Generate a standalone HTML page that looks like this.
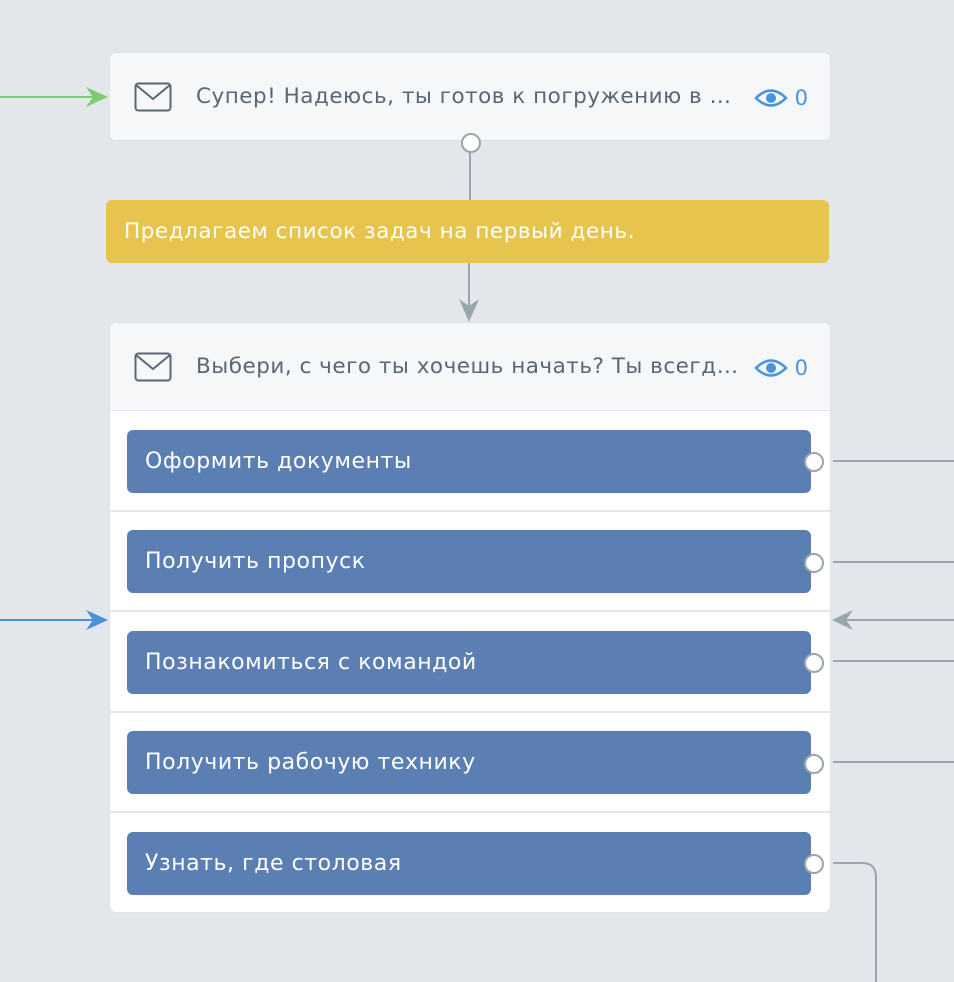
<!DOCTYPE html>
<html><head><meta charset="utf-8"><style>
body{margin:0;width:954px;height:982px;background:#e3e7ec;position:relative;overflow:hidden;font-family:"DejaVu Sans","Liberation Sans",sans-serif}
.card{position:absolute;left:110px;width:720px;background:#fff;border-radius:6px;box-shadow:0 0 0 1px #dde2e8}
.hdr{position:absolute;left:0;right:0;top:0;height:87px;background:#f5f7f9;border-radius:6px 6px 0 0;border-bottom:1px solid #e3e7ec}
.ttl{position:absolute;left:86px;top:31px;font-size:21.5px;letter-spacing:0.5px;color:#5a6676;white-space:nowrap}
.eye{position:absolute;left:644px;top:30px;color:#4a94dd;font-size:21px}
.btn{position:absolute;left:127px;width:684px;height:63px;background:#5c7fb3;border-radius:6px;color:#fff;font-size:22px;letter-spacing:0.55px;line-height:63px;box-sizing:border-box;padding-left:18px}
.sep{position:absolute;left:110px;width:720px;height:2px;background:#e3e7ec}
.yel{position:absolute;left:106px;top:200px;width:723px;height:63px;background:#e6c44e;border-radius:6px;color:#fff;font-size:21.5px;letter-spacing:0.55px;line-height:63px;padding-left:18px;box-sizing:border-box}
svg{position:absolute;left:0;top:0}
</style></head><body>
<div class="card" style="top:53px;height:87px"><div class="hdr" style="border-bottom:none;border-radius:6px"></div>
<svg style="left:24px;top:29px" width="38" height="30"><rect x="1.5" y="1.5" width="35" height="27" rx="3" fill="none" stroke="#5a6676" stroke-width="2"/><path d="M2 3 L19 17 L36 3" fill="none" stroke="#5a6676" stroke-width="2"/></svg>
<div class="ttl">Супер! Надеюсь, ты готов к погружению в …</div>
<div class="eye"><svg style="position:relative;top:4px;left:0" width="34" height="22"><path d="M2 11 Q17 -4 32 11 Q17 26 2 11Z" fill="none" stroke="#4a94dd" stroke-width="2.5"/><circle cx="17" cy="11" r="5" fill="#4a94dd"/></svg> 0</div></div>
<div class="yel">Предлагаем список задач на первый день.</div>
<div class="card" style="top:323px;height:589px"><div class="hdr"></div>
<svg style="left:24px;top:29px" width="38" height="30"><rect x="1.5" y="1.5" width="35" height="27" rx="3" fill="none" stroke="#5a6676" stroke-width="2"/><path d="M2 3 L19 17 L36 3" fill="none" stroke="#5a6676" stroke-width="2"/></svg>
<div class="ttl">Выбери, с чего ты хочешь начать? Ты всегд…</div>
<div class="eye"><svg style="position:relative;top:4px" width="34" height="22"><path d="M2 11 Q17 -4 32 11 Q17 26 2 11Z" fill="none" stroke="#4a94dd" stroke-width="2.5"/><circle cx="17" cy="11" r="5" fill="#4a94dd"/></svg> 0</div></div>
<div class="sep" style="top:510px"></div><div class="sep" style="top:610px"></div><div class="sep" style="top:711px"></div><div class="sep" style="top:811px"></div>
<div class="btn" style="top:430px">Оформить документы</div>
<div class="btn" style="top:530px">Получить пропуск</div>
<div class="btn" style="top:631px">Познакомиться с командой</div>
<div class="btn" style="top:731px">Получить рабочую технику</div>
<div class="btn" style="top:832px">Узнать, где столовая</div>
<svg width="954" height="982">
<g stroke="#9aa6ad" stroke-width="2" fill="none">
<line x1="470" y1="152" x2="470" y2="200"/><line x1="469" y1="263" x2="469" y2="318"/>
<line x1="833" y1="461" x2="954" y2="461"/><line x1="833" y1="562" x2="954" y2="562"/>
<line x1="833" y1="661" x2="954" y2="661"/><line x1="833" y1="762" x2="954" y2="762"/>
<line x1="840" y1="620" x2="954" y2="620"/>
<path d="M833 863 H862 Q876 863 876 877 V982"/>
</g>
<path d="M469 322 L459 299 L469 306 L479 299Z" fill="#9aa6ad"/>
<path d="M832 620 L853 610 L846 620 L853 630Z" fill="#9aa6ad"/>
<line x1="0" y1="97" x2="96" y2="97" stroke="#7dcc74" stroke-width="2"/><path d="M108 97 L86 87 L93 97 L86 107Z" fill="#7dcc74"/>
<line x1="0" y1="620" x2="96" y2="620" stroke="#4a90dd" stroke-width="2"/><path d="M108 620 L86 610 L93 620 L86 630Z" fill="#4a90dd"/>
<g fill="#fff" stroke="#9aa6ad" stroke-width="2">
<circle cx="471" cy="143" r="9"/><circle cx="814" cy="462" r="9"/><circle cx="814" cy="563" r="9"/><circle cx="814" cy="663" r="9"/><circle cx="814" cy="764" r="9"/><circle cx="814" cy="864" r="9"/>
</g></svg>
</body></html>
